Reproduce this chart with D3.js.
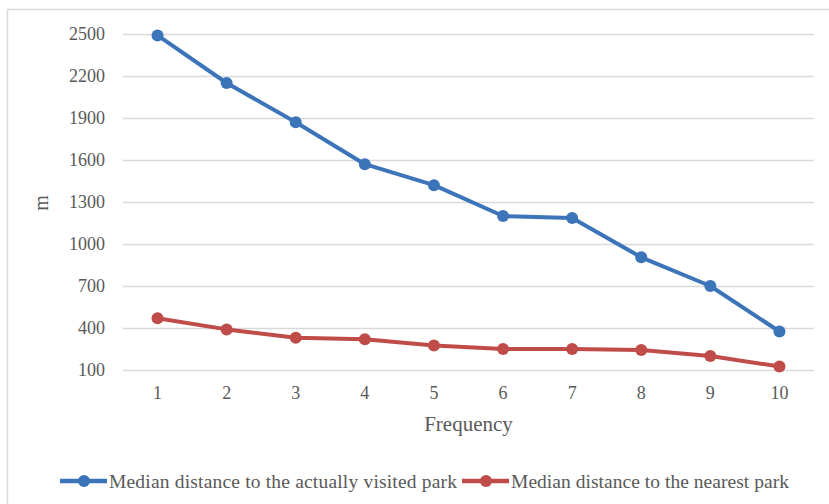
<!DOCTYPE html>
<html>
<head>
<meta charset="utf-8">
<script src="https://cdn.jsdelivr.net/npm/d3@7"></script>
<style>
  body { margin: 0; background: #fff; }
  text { font-family: "Liberation Serif", "Times New Roman", serif; fill: #595959; }
</style>
</head>
<body>
<div id="vis-container"></div>
<script>
const width = 829,
      height = 504,
      margin = {
          top: 34,
          bottom: 134,
          left: 123,
          right: 15
      };

// Data
var frequency = [1, 2, 3, 4, 5, 6, 7, 8, 9, 10];
var visitedPark = [2490, 2150, 1870, 1570, 1420, 1200, 1185, 905, 700, 375];
var nearestPark = [470, 390, 330, 320, 275, 250, 250, 243, 200, 125];
var yTicks = [100, 400, 700, 1000, 1300, 1600, 1900, 2200, 2500];
var seriesNames = ["Median distance to the actually visited park", "Median distance to the nearest park"];
var seriesColors = ["#3c74ba", "#bf4c48"];

var svg = d3.select("#vis-container").append("svg")
    .attr("width", width)
    .attr("height", height);

// chart border
svg.append("rect")
    .attr("x", 7.5).attr("y", 9.5)
    .attr("width", 840).attr("height", 520)
    .attr("fill", "none")
    .attr("stroke", "#d9d9d9")
    .attr("stroke-width", 1.5);

// ******* Scales *******
var x = d3.scaleBand().domain(frequency).range([margin.left, width - margin.right]);
var y = d3.scaleLinear().domain([100, 2500]).range([height - margin.bottom, margin.top]);
var cx = function(d) { return x(d) + x.bandwidth() / 2; };

// gridlines
svg.append("g")
    .attr("transform", `translate(${margin.left} 0)`)
    .call(d3.axisLeft(y).tickValues(yTicks).tickSize(-(width - margin.left - margin.right)).tickFormat(""))
    .call(g => g.select(".domain").remove())
    .selectAll("line")
    .attr("stroke", "#d9d9d9")
    .attr("stroke-width", 1.5);

// y labels
svg.append("g")
    .attr("transform", `translate(${margin.left} 0)`)
    .call(d3.axisLeft(y).tickValues(yTicks).tickFormat(d3.format("d")).tickSize(0).tickPadding(18))
    .call(g => g.select(".domain").remove())
    .selectAll("text")
    .attr("font-size", 18);

// x labels
svg.append("g")
    .attr("transform", `translate(0 ${height - margin.bottom})`)
    .call(d3.axisBottom(x).tickSize(0).tickPadding(16))
    .call(g => g.select(".domain").remove())
    .selectAll("text")
    .attr("font-size", 18);

// axis titles
svg.append("text")
    .attr("x", (margin.left + width - margin.right) / 2)
    .attr("y", 431)
    .attr("text-anchor", "middle")
    .attr("font-size", 21)
    .text("Frequency");

svg.append("text")
    .attr("transform", "translate(48 203) rotate(-90)")
    .attr("text-anchor", "middle")
    .attr("font-size", 20)
    .text("m");

// ******* Lines *******
var line = d3.line()
    .x(function(d, i) { return cx(frequency[i]); })
    .y(function(d) { return y(d); });

[visitedPark, nearestPark].forEach(function(values, k) {
    svg.append("path")
        .datum(values)
        .attr("d", line)
        .attr("fill", "none")
        .attr("stroke", seriesColors[k])
        .attr("stroke-width", 4)
        .attr("stroke-linejoin", "round");
    svg.selectAll(".pt" + k)
        .data(values)
        .enter()
        .append("circle")
        .attr("class", "pt" + k)
        .attr("cx", function(d, i) { return cx(frequency[i]); })
        .attr("cy", function(d) { return y(d); })
        .attr("r", 6)
        .attr("fill", seriesColors[k]);
});

// ******* Legend *******
var legendX = [60, 462];
var legendW = [348, 278];
var legend = svg.append("g");
seriesNames.forEach(function(name, k) {
    var g = legend.append("g").attr("transform", `translate(${legendX[k]} 481)`);
    g.append("line")
        .attr("x1", 0).attr("x2", 47)
        .attr("stroke", seriesColors[k])
        .attr("stroke-width", 4.5);
    g.append("circle")
        .attr("cx", 24).attr("r", 6)
        .attr("fill", seriesColors[k]);
    g.append("text")
        .attr("x", 49)
        .attr("dy", "0.35em")
        .attr("font-size", 19.5)
        .attr("textLength", legendW[k])
        .attr("lengthAdjust", "spacing")
        .text(name);
});
</script>
</body>
</html>
